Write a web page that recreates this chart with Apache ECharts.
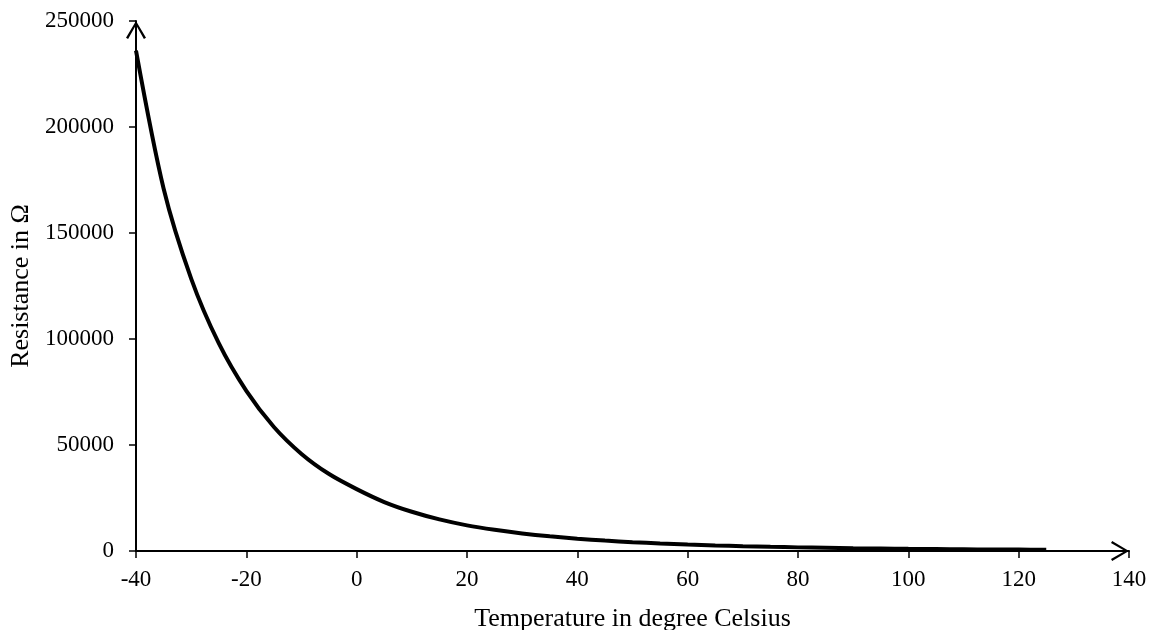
<!DOCTYPE html>
<html>
<head>
<meta charset="utf-8">
<script src="https://cdn.jsdelivr.net/npm/echarts@6/dist/echarts.min.js"></script>
<style>
html,body{margin:0;padding:0;background:#fff;}
#chart{width:1157px;height:630px;}
</style>
</head>
<body>
<div id="chart"></div>
<script>
// Temperature (°C) and NTC resistance (Ω)
const temperatures = [-40,-35,-30,-25,-20,-15,-10,-5,0,5,10,15,20,25,30,35,40,45,50,55,60,65,70,75,80,85,90,95,100,105,110,115,120,125];
const resistances = [236000,171000,128500,98000,75500,58500,45800,36300,29200,23100,18500,14900,12100,10000,8300,6920,5810,4900,4160,3550,3040,2620,2260,1960,1710,1500,1310,1160,1020,910,810,720,650,580];
const xTicks = {min:-40, max:140, interval:20};
const yTicks = {min:0, max:250000, interval:50000};

const points = temperatures.map((t,i)=>[t, resistances[i]]);
const font = '"Liberation Serif","Times New Roman",serif';
const chevron = 'path://M10,0 L20,16.8 L17.9,18 L10,4 L2.1,18 L0,16.8 Z';

const chart = echarts.init(document.getElementById('chart'), null, {renderer:'canvas'});
chart.setOption({
  animation:false,
  backgroundColor:'#fff',
  grid:{left:136, right:28, top:21, bottom:79, containLabel:false, outerBoundsMode:'none'},
  xAxis:{
    type:'value', min:xTicks.min, max:xTicks.max, interval:xTicks.interval,
    name:'Temperature in degree Celsius', nameLocation:'middle', nameGap:55,
    nameTextStyle:{color:'#000', fontFamily:font, fontSize:26},
    axisLine:{show:true, onZero:false, lineStyle:{color:'#000', width:2},
      symbol:['none', chevron], symbolSize:[20,19], symbolOffset:[0,-9]},
    axisTick:{show:true, inside:false, length:7, lineStyle:{color:'#000', width:1.5}},
    axisLabel:{color:'#000', fontFamily:font, fontSize:23, margin:17, formatter:v=>String(v)},
    splitLine:{show:false}
  },
  yAxis:{
    type:'value', min:yTicks.min, max:yTicks.max, interval:yTicks.interval,
    name:'Resistance in Ω', nameLocation:'middle', nameGap:100,
    nameTextStyle:{color:'#000', fontFamily:font, fontSize:26},
    axisLine:{show:true, onZero:false, lineStyle:{color:'#000', width:2},
      symbol:['none', chevron], symbolSize:[20,19], symbolOffset:[0,-9]},
    axisTick:{show:true, inside:false, length:7, lineStyle:{color:'#000', width:1.5}},
    axisLabel:{color:'#000', fontFamily:font, fontSize:23, margin:22, formatter:v=>String(v)},
    splitLine:{show:false}
  },
  series:[{
    type:'line', data:points, smooth:0.3,
    showSymbol:false, symbol:'none',
    lineStyle:{color:'#000', width:4}, z:3
  }]
});
</script>
</body>
</html>
